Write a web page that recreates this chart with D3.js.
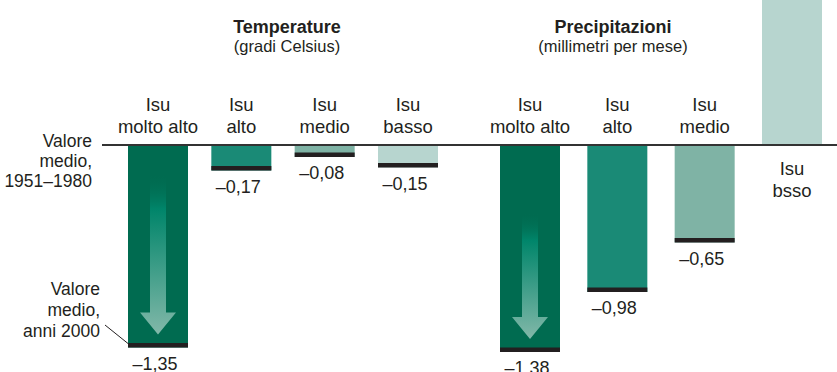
<!DOCTYPE html>
<html>
<head>
<meta charset="utf-8">
<script src="https://cdn.jsdelivr.net/npm/d3@7"></script>
<style>
  body { margin: 0; background: #fff; }
  svg { display: block; }
  text { font-family: "Liberation Sans", Arial, sans-serif; fill: #231f20; }
</style>
</head>
<body>
<svg id="chart" width="837" height="372"></svg>
<script>
// Variation of the average (2000s vs 1951–1980) by human development index group
const categories = ["molto alto", "alto", "medio", "basso"];
const tempCategoryLabels = [["Isu", "molto alto"], ["Isu", "alto"], ["Isu", "medio"], ["Isu", "basso"]];
const precipCategoryLabels = [["Isu", "molto alto"], ["Isu", "alto"], ["Isu", "medio"], ["Isu", "bsso"]];
const tempValues = [-1.35, -0.17, -0.08, -0.15];
const precipValues = [-1.38, -0.98, -0.65, 1.12];
const showValueLabel = [true, true, true, false];   // the last precipitation bar carries no number
const arrowFrom = [-0.19, -0.45];                   // where the fading arrow starts in each panel
const barColors = ["#006b50", "#1a8a76", "#7fb3a5", "#b7d5cf"];
const titles = [
  { title: "Temperature", unit: "(gradi Celsius)" },
  { title: "Precipitazioni", unit: "(millimetri per mese)" }
];

const svg = d3.select("#chart");
const W = 837, H = 372;

const it = d3.formatLocale({ decimal: ",", thousands: ".", grouping: [3], currency: ["", " €"], minus: "–" });
const fmt = it.format(".2f");

const y = d3.scaleLinear().domain([0, -1.4]).range([145, 355]);
const barW = 60;
const capH = 4.5;

const panels = [
  { values: tempValues, labels: tempCategoryLabels, x: d3.scalePoint().domain(categories).range([158, 408]), titleX: 287, arrow: arrowFrom[0] },
  { values: precipValues, labels: precipCategoryLabels, x: d3.scalePoint().domain(categories).range([530, 792]), titleX: 613, arrow: arrowFrom[1] }
];

// arrow gradient
const defs = svg.append("defs");
const grad = defs.append("linearGradient").attr("id", "arrowGrad")
  .attr("x1", 0).attr("y1", 0).attr("x2", 0).attr("y2", 1);
grad.append("stop").attr("offset", "0%").attr("stop-color", "#006b50").attr("stop-opacity", 0);
grad.append("stop").attr("offset", "22%").attr("stop-color", "#00856a").attr("stop-opacity", 1);
grad.append("stop").attr("offset", "100%").attr("stop-color", "#82b8a9").attr("stop-opacity", 1);

panels.forEach((p, pi) => {
  const rows = categories.map((c, i) => ({ c, v: p.values[i], lab: p.labels[i], i }));

  // bars
  svg.append("g").selectAll("rect").data(rows).join("rect")
    .attr("x", d => p.x(d.c) - barW / 2)
    .attr("y", d => Math.min(y(d.v), y(0)))
    .attr("width", barW)
    .attr("height", d => Math.abs(y(d.v) - y(0)))
    .attr("fill", d => barColors[d.i]);

  // black marks at the 2000s average
  svg.append("g").selectAll("rect").data(rows.filter(d => d.v < 0)).join("rect")
    .attr("x", d => p.x(d.c) - barW / 2)
    .attr("y", d => y(d.v) - capH)
    .attr("width", barW)
    .attr("height", capH)
    .attr("fill", "#231f20");

  // arrow in the first bar
  const a = rows[0];
  const cx = p.x(a.c);
  const tip = y(a.v) - 13, headTop = tip - 22, top = y(p.arrow);
  const sw = 8, hw = 18;
  svg.append("path")
    .attr("d", `M${cx - sw},${top} L${cx + sw},${top} L${cx + sw},${headTop} L${cx + hw},${headTop} L${cx},${tip} L${cx - hw},${headTop} L${cx - sw},${headTop} Z`)
    .attr("fill", "url(#arrowGrad)");

  // category labels
  const cl = svg.append("g").selectAll("text").data(rows).join("text")
    .attr("text-anchor", "middle")
    .attr("font-size", 18.5)
    .attr("x", d => p.x(d.c));
  cl.each(function (d) {
    const t = d3.select(this);
    const base = d.v < 0 ? 111 : 175;
    d.lab.forEach((s, k) => t.append("tspan").attr("x", p.x(d.c)).attr("y", base + k * 22).text(s));
  });

  // value labels
  svg.append("g").selectAll("text").data(rows.filter(d => d.v < 0 && (pi === 0 || showValueLabel[d.i]))).join("text")
    .attr("text-anchor", "middle")
    .attr("font-size", 18)
    .attr("x", d => p.x(d.c) - 3)
    .attr("y", d => y(d.v) + 22)
    .text(d => fmt(d.v));

  // titles
  svg.append("text").attr("x", p.titleX).attr("y", 33).attr("text-anchor", "middle")
    .attr("font-size", 18).attr("font-weight", "bold").text(titles[pi].title);
  svg.append("text").attr("x", p.titleX).attr("y", 52).attr("text-anchor", "middle")
    .attr("font-size", 16.5).text(titles[pi].unit);
});

// zero line
svg.append("line").attr("x1", 102).attr("x2", W).attr("y1", y(0)).attr("y2", y(0))
  .attr("stroke", "#333").attr("stroke-width", 2.2);

// left annotations
const note1 = svg.append("text").attr("text-anchor", "end").attr("font-size", 17.5);
["Valore", "medio,", "1951–1980"].forEach((s, k) => note1.append("tspan").attr("x", 92).attr("y", 147 + k * 20).text(s));
const note2 = svg.append("text").attr("text-anchor", "end").attr("font-size", 17.5);
["Valore", "medio,", "anni 2000"].forEach((s, k) => note2.append("tspan").attr("x", 100).attr("y", 295 + k * 21).text(s));
svg.append("line").attr("x1", 105).attr("y1", 325)
  .attr("x2", panels[0].x(categories[0]) - barW / 2).attr("y2", y(tempValues[0]) - 4)
  .attr("stroke", "#231f20").attr("stroke-width", 1);
</script>
</body>
</html>
